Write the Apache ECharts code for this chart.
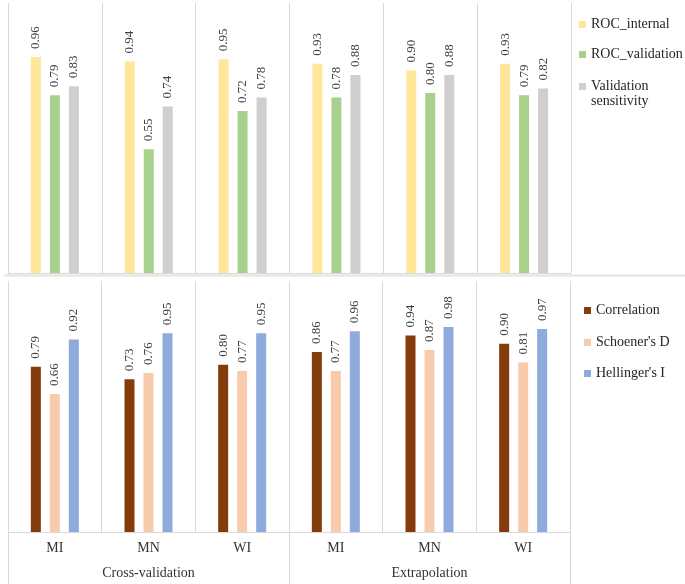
<!DOCTYPE html>
<html>
<head>
<meta charset="utf-8">
<script src="https://cdn.jsdelivr.net/npm/echarts@6/dist/echarts.min.js"></script>
<style>html,body{margin:0;padding:0;background:#fff}#c{width:685px;height:584px}</style>
</head>
<body>
<div id="c"></div>
<script>
const categories = ['MI', 'MN', 'WI', 'MI', 'MN', 'WI'];
const groups = ['Cross-validation', 'Extrapolation'];
const rocInternal = [0.96, 0.94, 0.95, 0.93, 0.90, 0.93];
const rocValidation = [0.79, 0.55, 0.72, 0.78, 0.80, 0.79];
const validationSensitivity = [0.83, 0.74, 0.78, 0.88, 0.88, 0.82];
const correlation = [0.79, 0.73, 0.80, 0.86, 0.94, 0.90];
const schoenersD = [0.66, 0.76, 0.77, 0.77, 0.87, 0.81];
const hellingersI = [0.92, 0.95, 0.95, 0.96, 0.98, 0.97];

const FONT = '"Liberation Serif", "Times New Roman", serif';
const GRID_LINE = '#D9D9D9';

function bar(name, data, color, gridIdx) {
  return {
    name: name, type: 'bar', data: data,
    xAxisIndex: gridIdx, yAxisIndex: gridIdx,
    barWidth: 10, barGap: '90%',
    itemStyle: { color: color },
    label: {
      show: true, position: 'top', rotate: 90, align: 'left', verticalAlign: 'middle',
      distance: 8, fontFamily: FONT, fontSize: 13, color: '#404040',
      formatter: p => p.value.toFixed(2)
    }
  };
}

function legendItem(name, left, top, opts) {
  return Object.assign({
    data: [{ name: name, icon: 'rect' }],
    orient: 'vertical', left: left, top: top, padding: 0,
    itemWidth: 7, itemHeight: 7, selectedMode: false,
    textStyle: { fontFamily: FONT, fontSize: 14, color: '#262626', lineHeight: 15 }
  }, opts || {});
}

const chart = echarts.init(document.getElementById('c'), null, { renderer: 'canvas' });
chart.setOption({
  animation: false,
  grid: [
    { left: 8, top: 3, width: 563, height: 270 },
    { left: 8, top: 281, width: 562, height: 251 }
  ],
  xAxis: [
    { gridIndex: 0, type: 'category', data: categories,
      axisLine: { lineStyle: { color: GRID_LINE } }, axisTick: { show: false }, axisLabel: { show: false },
      splitLine: { show: true, interval: 0, lineStyle: { color: GRID_LINE } } },
    { gridIndex: 1, type: 'category', data: categories,
      axisLine: { lineStyle: { color: GRID_LINE } }, axisTick: { show: false },
      axisLabel: { interval: 0, margin: 9, fontFamily: FONT, fontSize: 14, color: '#333' },
      splitLine: { show: true, interval: 0, lineStyle: { color: GRID_LINE } } },
    { gridIndex: 1, type: 'category', data: groups, position: 'bottom',
      axisLine: { lineStyle: { color: GRID_LINE } },
      axisTick: { show: true, length: 52, interval: 0, lineStyle: { color: GRID_LINE } },
      axisLabel: { interval: 0, margin: 34, fontFamily: FONT, fontSize: 14, color: '#333' },
      splitLine: { show: false } }
  ],
  yAxis: [
    { gridIndex: 0, type: 'value', min: 0, max: 1.2, show: false },
    { gridIndex: 1, type: 'value', min: 0, max: 1.2, show: false }
  ],
  legend: [
    legendItem('ROC_internal', 579, 17),
    legendItem('ROC_validation', 579, 47),
    legendItem('Validation sensitivity', 579, 64, {
      formatter: () => '\nValidation\nsensitivity'
    }),
    legendItem('Correlation', 584, 303),
    legendItem("Schoener's D", 584, 335),
    legendItem("Hellinger's I", 584, 366)
  ],
  graphic: [
    { type: 'line', shape: { x1: 4, y1: 275.5, x2: 685, y2: 275.5 }, style: { stroke: '#E3E3E3', lineWidth: 2 } }
  ],
  series: [
    bar('ROC_internal', rocInternal, '#FFE699', 0),
    bar('ROC_validation', rocValidation, '#A9D18E', 0),
    bar('Validation sensitivity', validationSensitivity, '#D0CECE', 0),
    bar('Correlation', correlation, '#843C0C', 1),
    bar("Schoener's D", schoenersD, '#F8CBAD', 1),
    bar("Hellinger's I", hellingersI, '#8FAADC', 1)
  ]
});
</script>
</body>
</html>
